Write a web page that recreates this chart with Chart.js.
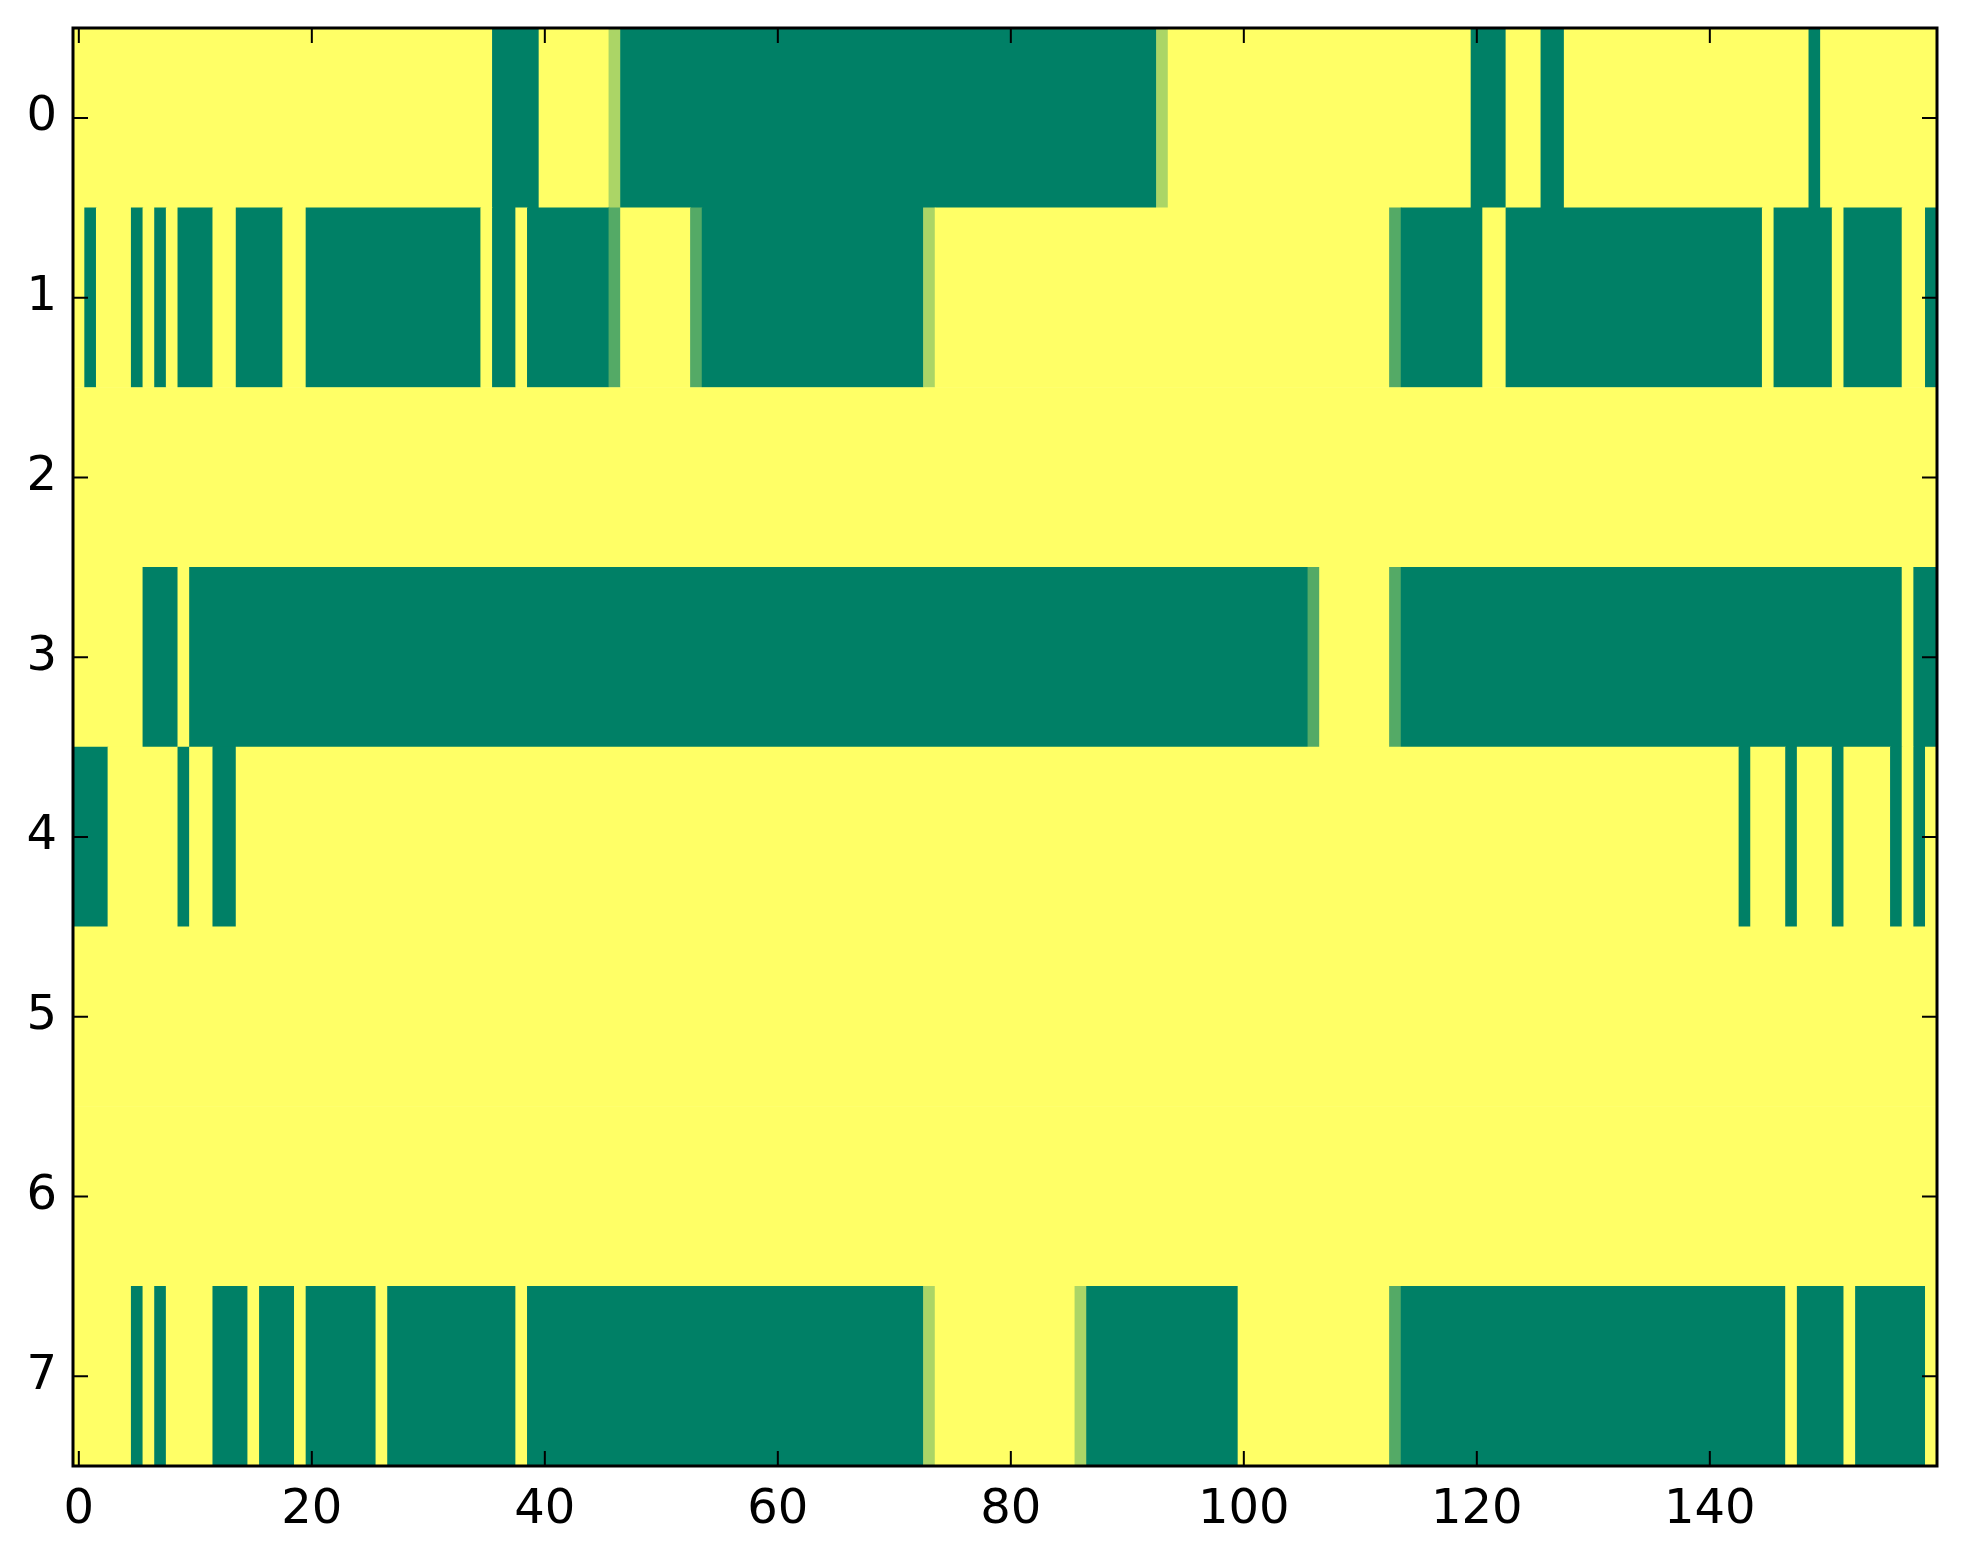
<!DOCTYPE html>
<html>
<head>
<meta charset="utf-8">
<script src="https://cdn.jsdelivr.net/npm/chart.js@4.4.1/dist/chart.umd.min.js"></script>
<style>
  html, body { margin: 0; padding: 0; background: #fff; }
  #heatmap { display: block; }
</style>
</head>
<body>
<canvas id="heatmap" width="1963" height="1564"></canvas>
<script>
// each row: [value, run length] read left to right (160 columns)
const row0 = [[1,36],[0,4],[1,6],[0.67,1],[0,46],[0.67,1],[1,26],[0,3],[1,3],[0,2],[1,21],[0,1],[1,10]];
const row1 = [[1,1],[0,1],[1,3],[0,1],[1,1],[0,1],[1,1],[0,3],[1,2],[0,4],[1,2],[0,15],[1,1],[0,2],[1,1],[0,7],
              [0.33,1],[1,6],[0.33,1],[0,19],[0.67,1],[1,39],[0.33,1],[0,7],[1,2],[0,22],[1,1],[0,5],[1,1],[0,5],[1,2],[0,1]];
const row2 = [[1,160]];
const row3 = [[1,6],[0,3],[1,1],[0,96],[0.33,1],[1,6],[0.33,1],[0,43],[1,1],[0,2]];
const row4 = [[0,3],[1,6],[0,1],[1,2],[0,2],[1,129],[0,1],[1,3],[0,1],[1,3],[0,1],[1,4],[0,1],[1,1],[0,1],[1,1]];
const row5 = [[1,160]];
const row6 = [[1,160]];
const row7 = [[1,5],[0,1],[1,1],[0,1],[1,4],[0,3],[1,1],[0,3],[1,1],[0,6],[1,1],[0,11],[1,1],[0,34],[0.67,1],[1,12],
              [0.67,1],[0,13],[1,13],[0.33,1],[0,33],[1,1],[0,4],[1,1],[0,6],[1,1]];

const rows = [row0, row1, row2, row3, row4, row5, row6, row7];
const xTicks = [0, 20, 40, 60, 80, 100, 120, 140];
const yTicks = [0, 1, 2, 3, 4, 5, 6, 7];

// matplotlib "summer" colormap
function summer(v) {
    const r = Math.round(255 * v);
    const g = Math.round(255 * (0.5 + 0.5 * v));
    const b = Math.round(255 * 0.4);
    return `rgb(${r},${g},${b})`;
}

const cells = [];
const cellColors = [];
rows.forEach((runs, r) => {
    let col = 0;
    runs.forEach(([v, n]) => {
        cells.push({ x: [col - 0.5, col + n - 0.5], y: r });
        cellColors.push(summer(v));
        col += n;
    });
});

// frame and inward ticks on all four sides, like the classic matplotlib axes
const frame = {
    id: 'frame',
    afterDraw(chart) {
        const { ctx, chartArea: a, scales: { x, y } } = chart;
        const len = 15;
        ctx.save();
        ctx.strokeStyle = '#000';
        ctx.lineWidth = 2;
        ctx.beginPath();
        xTicks.forEach(t => {
            const px = x.getPixelForValue(t);
            ctx.moveTo(px, a.bottom); ctx.lineTo(px, a.bottom - len);
            ctx.moveTo(px, a.top); ctx.lineTo(px, a.top + len);
        });
        yTicks.forEach(t => {
            const py = y.getPixelForValue(t);
            ctx.moveTo(a.left, py); ctx.lineTo(a.left + len, py);
            ctx.moveTo(a.right, py); ctx.lineTo(a.right - len, py);
        });
        ctx.stroke();
        ctx.lineWidth = 3;
        ctx.strokeRect(a.left, a.top, a.width, a.height);
        ctx.restore();
    }
};

const tickFont = { family: "'DejaVu Sans', sans-serif", size: 48 };

new Chart(document.getElementById('heatmap').getContext('2d'), {
    type: 'bar',
    data: {
        datasets: [{
            data: cells,
            backgroundColor: cellColors,
            borderWidth: 0,
            barPercentage: 1,
            categoryPercentage: 1
        }]
    },
    options: {
        indexAxis: 'y',
        responsive: false,
        animation: false,
        devicePixelRatio: 1,
        events: [],
        layout: { padding: { top: 28, right: 26, left: 0, bottom: 0 } },
        plugins: { legend: { display: false }, tooltip: { enabled: false } },
        scales: {
            x: {
                type: 'linear',
                position: 'bottom',
                min: -0.5,
                max: 159.5,
                offset: false,
                grid: { display: false, drawTicks: false },
                border: { display: false },
                ticks: { font: tickFont, color: '#000', padding: 16, maxRotation: 0, autoSkip: false },
                afterBuildTicks: s => { s.ticks = xTicks.map(v => ({ value: v })); },
                afterFit: s => { s.height = 98; s.paddingLeft = 0; s.paddingRight = 0; }
            },
            y: {
                type: 'linear',
                position: 'left',
                reverse: true,
                min: -0.5,
                max: 7.5,
                offset: false,
                grid: { display: false, drawTicks: false },
                border: { display: false },
                ticks: { font: tickFont, color: '#000', padding: 16, autoSkip: false },
                afterBuildTicks: s => { s.ticks = yTicks.map(v => ({ value: v })); },
                afterFit: s => { s.width = 73; s.paddingTop = 0; s.paddingBottom = 0; }
            }
        }
    },
    plugins: [frame]
});
</script>
</body>
</html>
